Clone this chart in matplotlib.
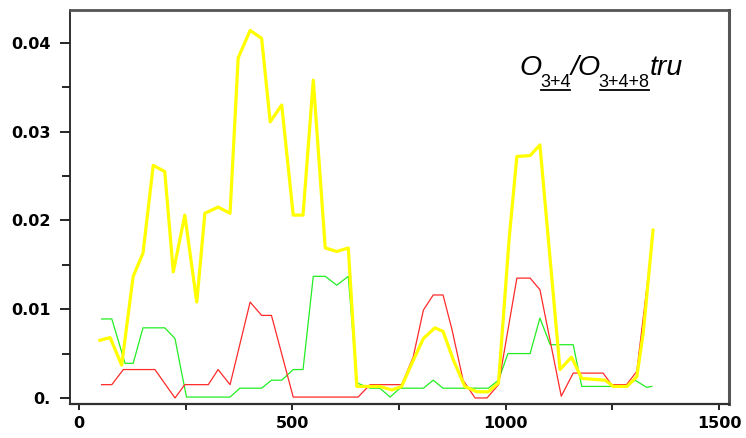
import matplotlib
matplotlib.use('Agg')
import matplotlib.pyplot as plt
from matplotlib.lines import Line2D
from matplotlib.patches import Rectangle
from matplotlib.transforms import IdentityTransform
from matplotlib.ticker import MultipleLocator, FuncFormatter

# Yellow series (thick)
yel_x = [49, 73, 100, 127, 150, 174, 201, 221, 248, 276, 295, 326, 354, 373,
         401, 428, 448, 475, 502, 525, 549, 577, 604, 631, 651, 682, 705, 733,
         756, 780, 807, 834, 853, 877, 904, 932, 959, 983, 1008, 1026, 1057,
         1080, 1127, 1154, 1178, 1233, 1252, 1284, 1307, 1322, 1345]
yel_y = [0.0065, 0.0068, 0.0037, 0.0137, 0.0163, 0.0262, 0.0255, 0.0142,
         0.0206, 0.0108, 0.0208, 0.0215, 0.0208, 0.0383, 0.0414, 0.0405,
         0.0311, 0.0330, 0.0206, 0.0206, 0.0358, 0.0169, 0.0165, 0.0169,
         0.0013, 0.0013, 0.0013, 0.0009, 0.0013, 0.0039, 0.0067, 0.0079,
         0.0075, 0.0043, 0.0013, 0.0007, 0.0007, 0.0017, 0.0180, 0.0272,
         0.0273, 0.0285, 0.0032, 0.0046, 0.0022, 0.0020, 0.0013, 0.0013,
         0.0024, 0.0073, 0.0189]

# Red series
red_x = [53, 77, 104, 178, 225, 248, 303, 326, 354, 401, 428, 451, 502, 654,
         682, 756, 783, 807, 830, 853, 874, 900, 928, 956, 983, 1026, 1057,
         1080, 1130, 1158, 1228, 1248, 1283, 1307, 1338]
red_y = [0.0015, 0.0015, 0.0032, 0.0032, 0.0000, 0.0015, 0.0015, 0.0032,
         0.0015, 0.0108, 0.0093, 0.0093, 0.0001, 0.0001, 0.0015, 0.0015,
         0.0046, 0.0099, 0.0116, 0.0116, 0.0077, 0.0020, 0.0000, 0.0000,
         0.0015, 0.0135, 0.0135, 0.0122, 0.0002, 0.0028, 0.0028, 0.0015,
         0.0015, 0.0030, 0.0155]

# Green series
grn_x = [53, 77, 108, 127, 150, 201, 225, 237, 252, 354, 377, 428, 451, 475,
         502, 525, 549, 577, 604, 631, 651, 682, 705, 729, 752, 807, 830, 853,
         959, 983, 1005, 1057, 1080, 1104, 1158, 1178, 1280, 1303, 1330, 1342]
grn_y = [0.0089, 0.0089, 0.0039, 0.0039, 0.0079, 0.0079, 0.0067, 0.0037,
         0.0001, 0.0001, 0.0011, 0.0011, 0.0020, 0.0020, 0.0032, 0.0032,
         0.0137, 0.0137, 0.0127, 0.0137, 0.0017, 0.0011, 0.0011, 0.0001,
         0.0011, 0.0011, 0.0020, 0.0011, 0.0011, 0.0020, 0.0050, 0.0050,
         0.0090, 0.0060, 0.0060, 0.0013, 0.0013, 0.0020, 0.0012, 0.0013]

tick_font = ['DejaVu Sans']
title_font = ['Liberation Sans', 'DejaVu Sans']

fig = plt.figure(figsize=(7.46, 4.38), dpi=100)
ax = fig.add_axes([70 / 746, 1 - 404 / 438, 659 / 746, 394 / 438])

ax.plot(grn_x, grn_y, color='#22ee22', lw=0.9)
ax.plot(red_x, red_y, color='#ff2a2a', lw=0.9)
ax.plot(yel_x, yel_y, color='#ffff00', lw=2.3)

ax.set_xlim(-21, 1523)
ax.set_ylim(-0.00068, 0.0437)

ax.xaxis.set_major_locator(MultipleLocator(500))
ax.xaxis.set_minor_locator(MultipleLocator(250))
ax.yaxis.set_major_locator(MultipleLocator(0.01))
ax.yaxis.set_minor_locator(MultipleLocator(0.005))
ax.yaxis.set_major_formatter(FuncFormatter(lambda v, p: '0.' if abs(v) < 1e-9 else '%.2f' % v))

ax.tick_params(axis='y', which='major', length=7, width=1.2, pad=7, direction='out')
ax.tick_params(axis='y', which='minor', length=6, width=1.2, direction='out')
ax.tick_params(axis='x', which='both', length=4, width=1.2, pad=4.5, direction='out')
for lab in ax.get_xticklabels() + ax.get_yticklabels():
    lab.set_family(tick_font)
    lab.set_fontweight('bold')
    lab.set_fontsize(11.5)

ax.spines['left'].set_color('#202020')
ax.spines['left'].set_linewidth(1.3)
ax.spines['bottom'].set_color('#303030')
ax.spines['bottom'].set_linewidth(1.6)
ax.spines['top'].set_color('#555555')
ax.spines['top'].set_linewidth(2.0)
ax.spines['right'].set_color('#555555')
ax.spines['right'].set_linewidth(2.2)

# Title-like label with underlined subscripts, placed piece by piece in pixels
fig.canvas.draw()
r = fig.canvas.get_renderer()
base = 438 - 75
sub_base = 438 - 87
ul_y = 438 - 90
pieces = [('O', 20.5, base, 'italic', False),
          ('3+4', 13, sub_base, 'normal', True),
          ('/', 20.5, base, 'italic', False),
          ('O', 20.5, base, 'italic', False),
          ('3+4+8', 13, sub_base, 'normal', True),
          ('tru', 20.5, base, 'italic', False)]
x = 519
for s, size, y, style, under in pieces:
    t = fig.text(x, y, s, transform=IdentityTransform(), fontsize=size,
                 style=style, family=title_font, va='baseline', ha='left')
    bb = t.get_window_extent(r)
    if under:
        fig.add_artist(Line2D([bb.x0 + 1, bb.x1 - 1], [ul_y, ul_y],
                              transform=IdentityTransform(), color='black', lw=1.3))
    x = bb.x1 + (-1 if style == 'italic' else 0)

# bottom of the picture is cut off in the reference
fig.add_artist(Rectangle((0, 0), 746, 9, transform=IdentityTransform(),
                         facecolor='white', edgecolor='none', zorder=10))

fig.savefig('out.png', dpi=100)
